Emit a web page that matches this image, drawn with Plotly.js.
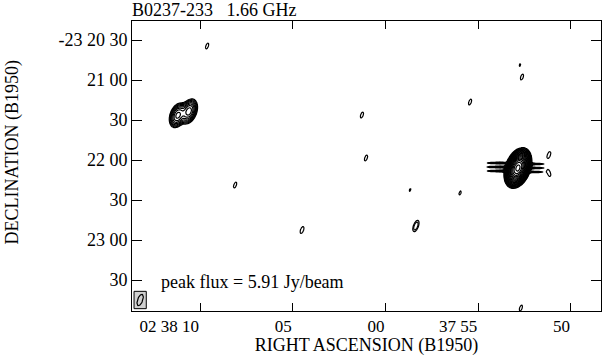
<!DOCTYPE html>
<html>
<head>
<meta charset="utf-8">
<script src="https://cdn.plot.ly/plotly-3.0.1.min.js"></script>
<style>
  html, body { margin: 0; padding: 0; background: #fff; }
  #map { width: 603px; height: 356px; }
</style>
</head>
<body>
<div id="map"></div>
<script>
// Axis labels (RA in seconds after 02 37 00, Dec in arcsec past -23 20 00)
const X_TICK_VALS = [70, 65, 60, 55, 50];
const X_TICK_TEXT = ["02 38 10", "05", "00", "37 55", "50"];
const Y_TICK_VALS = [-30, -60, -90, -120, -150, -180, -210];
const Y_TICK_TEXT = ["-23 20 30", "21 00", "30", "22 00", "30", "23 00", "30"];

const RA_RANGE = [73.67, 48.38];
const DEC_RANGE = [-233.25, -15.75];

// Gaussian components (flux in Jy, sizes FWHM arcsec, PA deg)
const COMP_RA   = [71.2, 70.6, 52.86, 69.62, 68.11, 64.50, 61.27, 61.05, 58.68, 58.36, 55.98, 55.44, 52.64, 52.75, 51.19, 51.19, 52.70];
const COMP_DEC  = [-86.5, -83.5, -126.0, -34.5, -138.75, -172.5, -86.25, -118.5, -142.5, -169.5, -144.75, -76.5, -57.75, -48.75, -116.25, -129.75, -231.0];
const COMP_FLUX = [0.13, 0.14, 5.91, 0.012, 0.012, 0.013, 0.012, 0.012, 0.0105, 0.02, 0.011, 0.012, 0.012, 0.0105, 0.013, 0.013, 0.012];
const COMP_MAJ  = [10, 10, 10.5, 9, 9, 9, 9, 9, 9, 9, 9, 9, 9, 9, 9, 9, 9];
const COMP_MIN  = [6, 6, 6.2, 3.75, 3.75, 3.75, 3.75, 3.75, 3.75, 3.75, 3.75, 3.75, 3.75, 3.75, 3.75, 3.75, 3.75];
const COMP_PA   = [-20, -20, -20, -20, -20, -20, -20, -20, -20, -20, -20, -20, -20, -20, -20, 20, -20];

// short horizontal sidelobe dashes either side of the core
const STRIPE_RA   = [54.37, 53.99, 53.67, 54.37, 53.99, 53.67, 54.37, 53.99, 53.67,
                     52.05, 51.67, 52.05, 51.67, 52.05, 51.67];
const STRIPE_DEC  = [-122.25, -122.25, -122.25, -125.25, -125.25, -125.25, -128.25, -128.25, -128.25,
                     -123.0, -123.0, -126.0, -126.0, -129.0, -129.0];
const STRIPE_FLUX = [0.013, 0.015, 0.016, 0.014, 0.015, 0.016, 0.013, 0.015, 0.016,
                     0.016, 0.014, 0.016, 0.014, 0.016, 0.013];

const BEAM = { ra: 73.23, dec: -225, maj: 9, min: 3.75, pa: -20 };
const PEAK_FLUX = 5.91;
const LOWEST_LEVEL = 0.01;

const ARCSEC_PER_SEC = 13.77;
const FWHM = 2.3548;

function buildComponents() {
    const comps = COMP_RA.map((ra, i) => ({
        ra, dec: COMP_DEC[i], flux: COMP_FLUX[i],
        maj: COMP_MAJ[i], min: COMP_MIN[i], pa: COMP_PA[i],
    }));
    STRIPE_RA.forEach((ra, i) => comps.push({
        ra, dec: STRIPE_DEC[i], flux: STRIPE_FLUX[i], maj: 6, min: 1.4, pa: 90,
    }));
    return comps.map((c) => {
        const t = c.pa * Math.PI / 180;
        return { ...c, s: Math.sin(t), co: Math.cos(t),
                 sa: c.maj / FWHM, sb: c.min / FWHM };
    });
}

const comps = buildComponents();
const xs = [], ys = [];
for (let v = RA_RANGE[1]; v <= RA_RANGE[0]; v += 0.054) xs.push(v);
for (let v = DEC_RANGE[0]; v <= DEC_RANGE[1]; v += 0.75) ys.push(v);

const z = ys.map((y) => xs.map((x) => {
    let f = 1e-6;
    for (const c of comps) {
        const dx = (x - c.ra) * ARCSEC_PER_SEC;
        const dy = y - c.dec;
        const a = dx * c.s + dy * c.co;
        const b = dx * c.co - dy * c.s;
        const q = (a * a) / (c.sa * c.sa) + (b * b) / (c.sb * c.sb);
        if (q < 60) f += c.flux * Math.exp(-0.5 * q);
    }
    return Math.log10(f);
}));

// beam ellipse + box
const bt = BEAM.pa * Math.PI / 180;
const beamX = [], beamY = [];
for (let k = 0; k <= 60; k++) {
    const t = (k / 60) * 2 * Math.PI;
    const a = (BEAM.maj / 2) * Math.cos(t);
    const b = (BEAM.min / 2) * Math.sin(t);
    const east = a * Math.sin(bt) + b * Math.cos(bt);
    const north = a * Math.cos(bt) - b * Math.sin(bt);
    beamX.push(BEAM.ra + east / ARCSEC_PER_SEC);
    beamY.push(BEAM.dec + north);
}
const boxHalfX = 0.33, boxHalfY = 6.5;

const FONT = "Liberation Serif, Times New Roman, serif";

const traces = [
    {
        type: "contour", x: xs, y: ys, z,
        contours: {
            start: Math.log10(LOWEST_LEVEL),
            end: Math.log10(PEAK_FLUX),
            size: Math.log10(2) / 2,
            coloring: "none",
        },
        line: { color: "#000", width: 1.2, smoothing: 1 },
        showscale: false, hoverinfo: "skip",
    },
    {
        type: "scatter", mode: "lines", x: beamX, y: beamY,
        line: { color: "#000", width: 1.2 }, hoverinfo: "skip", showlegend: false,
    },
];

const layout = {
    width: 603, height: 356,
    margin: { l: 132, r: 2, t: 21, b: 45 },
    paper_bgcolor: "#fff", plot_bgcolor: "#fff",
    font: { family: FONT, size: 18, color: "#000" },
    showlegend: false,
    title: {
        text: "B0237-233\u00a0\u00a0\u00a01.66 GHz",
        x: 0, xref: "paper", xanchor: "left",
        y: 0.972, yref: "container", yanchor: "middle",
        font: { family: FONT, size: 18, color: "#000" },
    },
    xaxis: {
        range: RA_RANGE, tickvals: X_TICK_VALS, ticktext: X_TICK_TEXT,
        ticks: "inside", ticklen: 8, tickcolor: "#000", tickwidth: 1,
        ticklabelposition: "outside left",
        showline: true, mirror: "ticks", linecolor: "#000", linewidth: 1,
        showgrid: false, zeroline: false,
        tickfont: { family: FONT, size: 17 },
        title: { text: "RIGHT ASCENSION (B1950)", font: { family: FONT, size: 18 }, standoff: 6 },
    },
    yaxis: {
        range: DEC_RANGE, tickvals: Y_TICK_VALS, ticktext: Y_TICK_TEXT,
        ticks: "inside", ticklen: 10, tickcolor: "#000", tickwidth: 1,
        showline: true, mirror: "ticks", linecolor: "#000", linewidth: 1,
        showgrid: false, zeroline: false,
        tickfont: { family: FONT, size: 18 },
    },
    annotations: [
        {
            text: "DECLINATION (B1950)", textangle: -90,
            xref: "paper", yref: "paper", x: -0.255, y: 0.5, yshift: 14,
            xanchor: "center", yanchor: "middle", showarrow: false,
            font: { family: FONT, size: 18 },
        },
        {
            text: "peak flux = " + PEAK_FLUX.toFixed(2) + " Jy/beam",
            xref: "paper", yref: "paper", x: 0.058, y: 0.1,
            xanchor: "left", yanchor: "middle", showarrow: false,
            font: { family: FONT, size: 18 },
        },
    ],
    shapes: [
        {
            type: "rect", xref: "x", yref: "y", layer: "below",
            x0: BEAM.ra - boxHalfX, x1: BEAM.ra + boxHalfX,
            y0: BEAM.dec - boxHalfY, y1: BEAM.dec + boxHalfY,
            line: { color: "#000", width: 1 }, fillcolor: "#d0d0d0",
        },
    ],
};

Plotly.newPlot("map", traces, layout, { displayModeBar: false, staticPlot: true });
</script>
</body>
</html>
